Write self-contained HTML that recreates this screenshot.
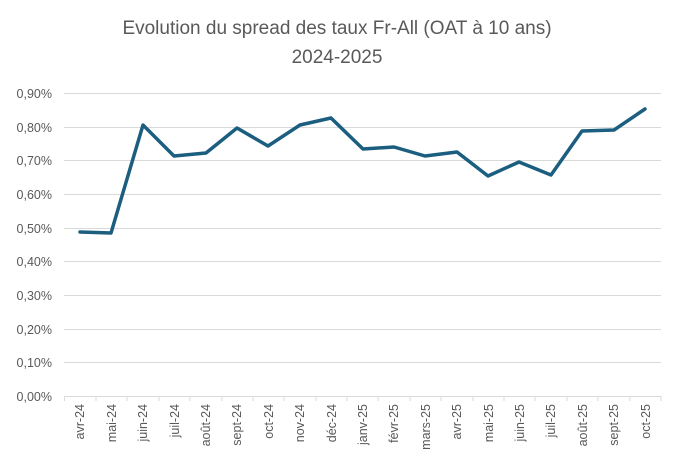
<!DOCTYPE html>
<html><head><meta charset="utf-8"><style>body{margin:0;background:#fff}</style></head>
<body>
<svg width="673" height="466" xmlns="http://www.w3.org/2000/svg" font-family="Liberation Sans, sans-serif">
<rect width="673" height="466" fill="#fff"/>
<text x="337" y="34" text-anchor="middle" font-size="19" fill="#595959">Evolution du spread des taux Fr-All (OAT à 10 ans)</text>
<text x="337" y="63" text-anchor="middle" font-size="19" fill="#595959">2024-2025</text>
<g stroke="#d9d9d9" stroke-width="1">
<line x1="64" x2="661" y1="93.5" y2="93.5"/><line x1="64" x2="661" y1="127.5" y2="127.5"/>
<line x1="64" x2="661" y1="160.5" y2="160.5"/><line x1="64" x2="661" y1="194.5" y2="194.5"/>
<line x1="64" x2="661" y1="228.5" y2="228.5"/><line x1="64" x2="661" y1="261.5" y2="261.5"/>
<line x1="64" x2="661" y1="295.5" y2="295.5"/><line x1="64" x2="661" y1="329.5" y2="329.5"/>
<line x1="64" x2="661" y1="362.5" y2="362.5"/><line x1="64" x2="661" y1="396.5" y2="396.5"/>
</g>
<g stroke="#d9d9d9" id="ticks"></g>
<g font-size="12.5" fill="#595959" text-anchor="end">
<text x="52" y="98">0,90%</text><text x="52" y="132">0,80%</text><text x="52" y="165">0,70%</text>
<text x="52" y="199">0,60%</text><text x="52" y="233">0,50%</text><text x="52" y="266">0,40%</text>
<text x="52" y="300">0,30%</text><text x="52" y="334">0,20%</text><text x="52" y="367">0,10%</text>
<text x="52" y="401">0,00%</text>
</g>
<g stroke="#d9d9d9">
<line x1="64.5" x2="64.5" y1="396" y2="401"/><line x1="96" x2="96" y1="396" y2="401"/><line x1="127" x2="127" y1="396" y2="401"/><line x1="159" x2="159" y1="396" y2="401"/><line x1="190" x2="190" y1="396" y2="401"/><line x1="222" x2="222" y1="396" y2="401"/><line x1="253" x2="253" y1="396" y2="401"/><line x1="284" x2="284" y1="396" y2="401"/><line x1="316" x2="316" y1="396" y2="401"/><line x1="347" x2="347" y1="396" y2="401"/><line x1="378" x2="378" y1="396" y2="401"/><line x1="410" x2="410" y1="396" y2="401"/><line x1="441" x2="441" y1="396" y2="401"/><line x1="473" x2="473" y1="396" y2="401"/><line x1="504" x2="504" y1="396" y2="401"/><line x1="535" x2="535" y1="396" y2="401"/><line x1="567" x2="567" y1="396" y2="401"/><line x1="598" x2="598" y1="396" y2="401"/><line x1="630" x2="630" y1="396" y2="401"/><line x1="661" x2="661" y1="396" y2="401"/>
</g>
<g font-size="12.5" fill="#595959" text-anchor="end">
<text transform="translate(84,404) rotate(-90)">avr-24</text>
<text transform="translate(116,404) rotate(-90)">mai-24</text>
<text transform="translate(147,404) rotate(-90)">juin-24</text>
<text transform="translate(179,404) rotate(-90)">juil-24</text>
<text transform="translate(210,404) rotate(-90)">août-24</text>
<text transform="translate(241,404) rotate(-90)">sept-24</text>
<text transform="translate(273,404) rotate(-90)">oct-24</text>
<text transform="translate(304,404) rotate(-90)">nov-24</text>
<text transform="translate(336,404) rotate(-90)">déc-24</text>
<text transform="translate(367,404) rotate(-90)">janv-25</text>
<text transform="translate(398,404) rotate(-90)">févr-25</text>
<text transform="translate(430,404) rotate(-90)">mars-25</text>
<text transform="translate(461,404) rotate(-90)">avr-25</text>
<text transform="translate(493,404) rotate(-90)">mai-25</text>
<text transform="translate(524,404) rotate(-90)">juin-25</text>
<text transform="translate(555,404) rotate(-90)">juil-25</text>
<text transform="translate(587,404) rotate(-90)">août-25</text>
<text transform="translate(618,404) rotate(-90)">sept-25</text>
<text transform="translate(650,404) rotate(-90)">oct-25</text>
</g>
<polyline fill="none" stroke="#1b5e7f" stroke-width="3.5" stroke-linejoin="round" stroke-linecap="round"
points="80,232 111,233 143,125 174,156 206,153 237,128 268,146 300,125 331,118 363,149 394,147 425,156 457,152 488,176 519,162 551,175 582,131 614,130 645,109"/>
</svg>
</body></html>
